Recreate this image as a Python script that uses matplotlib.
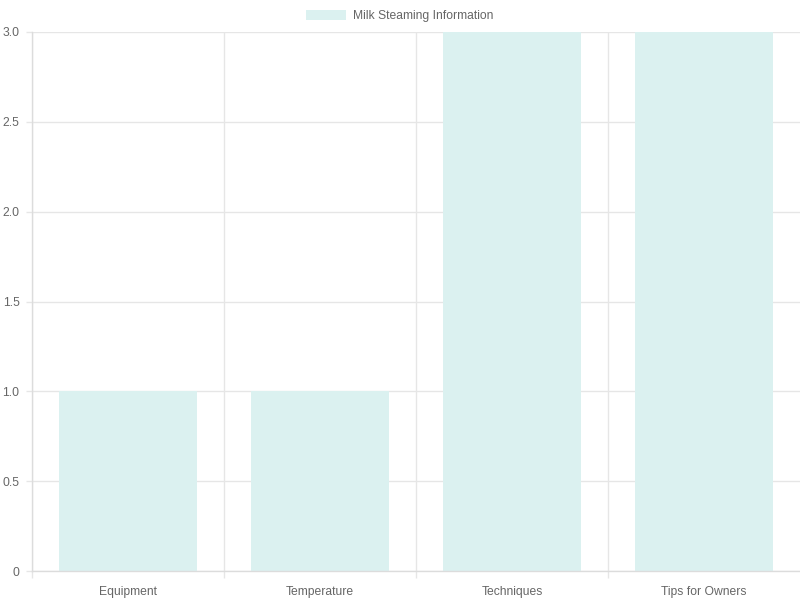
import matplotlib
matplotlib.use("Agg")
import matplotlib.pyplot as plt
from matplotlib.patches import Patch

categories = ["Equipment", "Temperature", "Techniques", "Tips for Owners"]
values = [1, 1, 3, 3]
series_label = "Milk Steaming Information"
yticks = [0, 0.5, 1.0, 1.5, 2.0, 2.5, 3.0]
ytick_labels = ["0", "0.5", "1.0", "1.5", "2.0", "2.5", "3.0"]

plt.rcParams['font.family'] = ['Liberation Sans', 'DejaVu Sans']
fill = (219/255, 241/255, 240/255)
grid = "#e6e6e6"
txt = "#666666"

fig = plt.figure(figsize=(8, 6), dpi=100)
ax = fig.add_axes([32/800, 29/600, 768/800, 539/600])
x = list(range(len(categories)))
ax.bar(x, values, width=0.72, color=fill, edgecolor='none', zorder=2)
ax.set_xlim(-0.5, len(categories) - 0.5)
ax.set_ylim(0, 3)
ax.set_yticks(yticks)
ax.set_yticklabels(ytick_labels)
ax.set_xticks(x)
ax.set_xticklabels(categories)
# vertical grid lines at category boundaries (none at the right edge)
ax.set_xticks([i - 0.5 for i in range(len(categories))], minor=True)
ax.grid(True, axis='y', color=grid, linewidth=1, zorder=0)
ax.grid(True, axis='x', which='minor', color=grid, linewidth=1, zorder=0)
ax.tick_params(axis='x', which='major', length=0, labelsize=8.7, labelcolor=txt, pad=10.5)
ax.tick_params(axis='x', which='minor', length=5, color=grid, width=1)
ax.tick_params(axis='y', length=4.5, color=grid, width=1, labelsize=8.7, labelcolor=txt, pad=4.5)
for s in ['top', 'right']:
    ax.spines[s].set_visible(False)
for s in ['left', 'bottom']:
    ax.spines[s].set_color("#dcdcdc")
    ax.spines[s].set_linewidth(1)

handle = Patch(facecolor=fill, edgecolor='none')
fig.legend([handle], [series_label], loc='upper center', bbox_to_anchor=(0.5, 1.0),
           frameon=False, fontsize=8.7, labelcolor=txt, handlelength=3.3, handleheight=1.0,
           handletextpad=0.6, borderaxespad=0.4)

fig.savefig("out.png", dpi=100)
